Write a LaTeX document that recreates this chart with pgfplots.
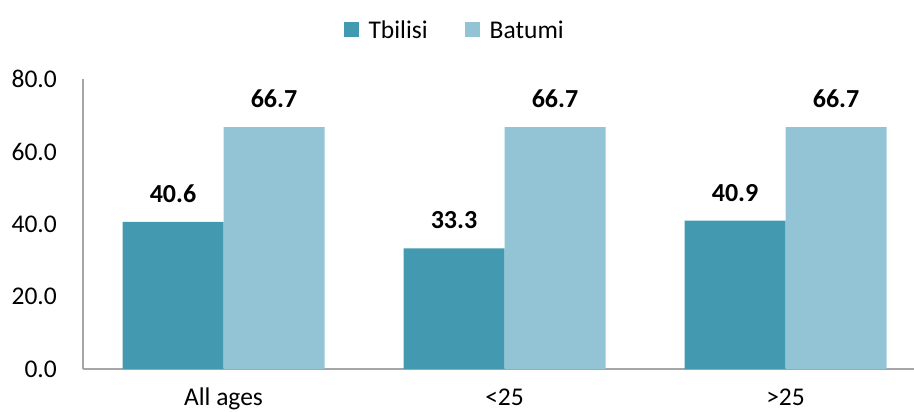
\documentclass[border=0pt]{standalone}
\usepackage{fontspec}
\setmainfont{Carlito}
\usepackage{pgfplots}
\pgfplotsset{compat=1.18}
\definecolor{tb}{HTML}{4399B0}
\definecolor{ba}{HTML}{93C4D6}
\definecolor{axc}{HTML}{A6A6A6}
\begin{document}
\begin{tikzpicture}
\begin{axis}[
  at={(0,0)}, anchor=south west,
  scale only axis, width=831pt, height=290pt,
  xmin=-0.5, xmax=2.457, ymin=0, ymax=80,
  ybar=0pt, bar width=101pt,
  axis x line*=bottom, axis y line*=left,
  axis line style={axc, line width=1.3pt},
  major tick length=0pt,
  tick style={draw=none},
  xtick={0,1,2}, xticklabels={All ages,{<25},{>25}},
  ytick={0,20,40,60,80},
  /pgf/number format/assume math mode=true,
  yticklabel={\pgfmathprintnumber[fixed,zerofill,precision=1]{\tick}},
  ticklabel style={font=\fontsize{25.5}{30}\selectfont, inner sep=0pt},
  yticklabel style={anchor=east, xshift=-26pt},
  xticklabel style={anchor=base, yshift=-36.5pt},
  nodes near coords={\pgfmathprintnumber[fixed,zerofill,precision=1]{\pgfplotspointmeta}},
  every node near coord/.append style={font=\bfseries\fontsize{26}{30}\selectfont, inner sep=0pt, anchor=south, yshift=19pt, text=black},
  legend style={at={(0.446,1.169)}, anchor=center, draw=none, fill=none,
    legend columns=2, font=\fontsize{25.5}{30}\selectfont,
    nodes={inner sep=0pt},
    /tikz/every odd column/.append style={column sep=10pt},
    /tikz/every even column/.append style={column sep=37pt}},
  legend image code/.code={\fill[#1] (0pt,-7.5pt) rectangle (15pt,7.5pt);},
  clip=false,
]
\addplot[fill=tb, draw=none] coordinates {(0,40.6) (1,33.3) (2,40.9)};
\addplot[fill=ba, draw=none] coordinates {(0,66.7) (1,66.7) (2,66.7)};
\legend{Tbilisi, Batumi}
\end{axis}
\pgfresetboundingbox
\path[use as bounding box] (-83pt,-43pt) rectangle (831pt,369pt);
\end{tikzpicture}
\end{document}
